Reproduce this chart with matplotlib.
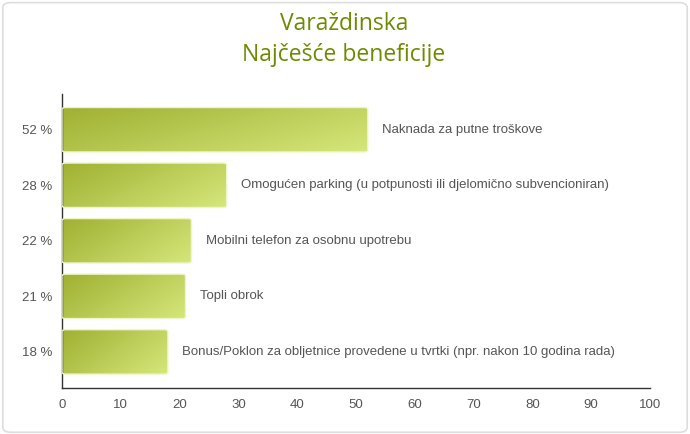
import numpy as np
import matplotlib
matplotlib.use('Agg')
import matplotlib.pyplot as plt
from matplotlib.patches import FancyBboxPatch
from matplotlib.colors import LinearSegmentedColormap

title = "Varaždinska\nNajčešće beneficije"
labels = ["Naknada za putne troškove",
          "Omogućen parking (u potpunosti ili djelomično subvencioniran)",
          "Mobilni telefon za osobnu upotrebu",
          "Topli obrok",
          "Bonus/Poklon za obljetnice provedene u tvrtki (npr. nakon 10 godina rada)"]
values = [52, 28, 22, 21, 18]
xticks = list(range(0, 101, 10))

plt.rcParams['font.family'] = ['Liberation Sans', 'DejaVu Sans']

fig = plt.figure(figsize=(6.9, 4.34), dpi=100)
fig.patch.set_facecolor('white')

# rounded frame around the chart
frame = FancyBboxPatch((0.004, 0.004), 0.992, 0.99, boxstyle="round,pad=0,rounding_size=0.012",
                       transform=fig.transFigure, facecolor='white', edgecolor='#dddddd', lw=1.2,
                       zorder=-5)
fig.patches.append(frame)

ax = fig.add_axes([0.0899, 0.106, 0.8522, 0.677])
ax.set_facecolor('none')
ax.set_zorder(2)

ypos = np.arange(len(values))
bars = ax.barh(ypos, values, height=0.8, color='none', edgecolor='none')

cmap = LinearSegmentedColormap.from_list('olive', ['#9fb032', '#d6e77b'])
gx, gy = np.meshgrid(np.linspace(0, 1, 200), np.linspace(0, 1, 60))
grad = (0.65 * gx + 0.35 * gy)

for b in bars:
    x0, y0, w, h = b.get_x(), b.get_y(), b.get_width(), b.get_height()
    patch = FancyBboxPatch((x0, y0), w, h, boxstyle="round,pad=0,rounding_size=0.6",
                           mutation_aspect=0.06, facecolor='none', edgecolor='#eef5c8', lw=1.0,
                           zorder=3)
    ax.add_patch(patch)
    im = ax.imshow(grad, cmap=cmap, extent=(x0, x0 + w, y0 + h, y0), aspect='auto',
                   zorder=2, interpolation='bilinear')
    im.set_clip_path(patch)

for y, v, lab in zip(ypos, values, labels):
    ax.text(v + 2.4, y, lab, va='center', ha='left', fontsize=9.5, color='#555555')

ax.set_xlim(0, 100)
ax.set_ylim(4.65, -0.64)
ax.set_xticks(xticks)
ax.set_xticklabels([str(t) for t in xticks])
ax.set_yticks(ypos)
ax.set_yticklabels([f"{v} %" for v in values])
ax.tick_params(axis='both', length=0, labelsize=9.5, colors='#555555')
ax.tick_params(axis='x', pad=8)
ax.tick_params(axis='y', pad=7)
for s in ['top', 'right']:
    ax.spines[s].set_visible(False)
for s in ['left', 'bottom']:
    ax.spines[s].set_color('#333333')
    ax.spines[s].set_linewidth(1.0)

fig.text(0.4986, 0.909, title, ha='center', va='center', fontsize=16.5, color='#6f8a00',
         family=['Open Sans', 'DejaVu Sans'], linespacing=1.4)

fig.savefig('out.png', dpi=100, facecolor='white')
